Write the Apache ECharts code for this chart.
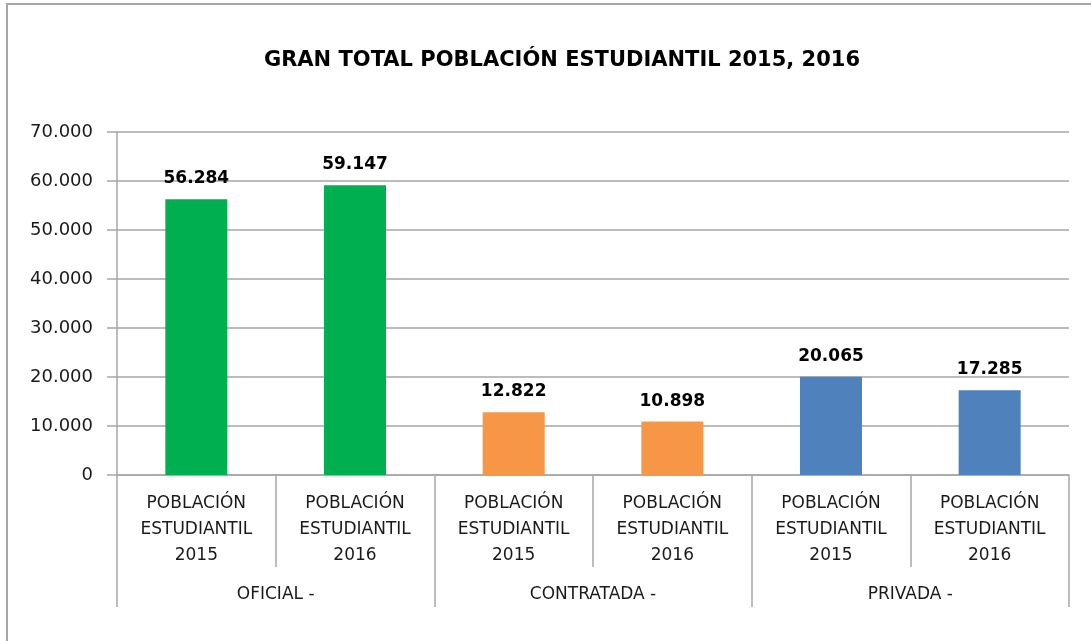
<!DOCTYPE html>
<html style="height: 100%">
<head>
   <meta charset="utf-8">
</head>
<style>
    body, html, #chart {
        width: 100%;
        height: 100%;
        margin: 0;
        background: #fff;
    }
</style>
<title>Gran total población estudiantil</title>
<script src="https://cdn.jsdelivr.net/npm/echarts@6/dist/echarts.min.js"></script>
<body>
   <div id="chart"></div>
   <script type="text/javascript">
    // datos
    var categories = ['POBLACIÓN\nESTUDIANTIL\n2015', 'POBLACIÓN\nESTUDIANTIL\n2016',
                      'POBLACIÓN\nESTUDIANTIL\n2015', 'POBLACIÓN\nESTUDIANTIL\n2016',
                      'POBLACIÓN\nESTUDIANTIL\n2015', 'POBLACIÓN\nESTUDIANTIL\n2016'];
    var groups = ['OFICIAL -', 'CONTRATADA -', 'PRIVADA -'];
    var values = [56284, 59147, 12822, 10898, 20065, 17285];
    var colors = ['#00B050', '#00B050', '#F79646', '#F79646', '#4F81BD', '#4F81BD'];

    var font = 'DejaVu Sans';
    function fmt(v) {
        return String(v).replace(/\B(?=(\d{3})+(?!\d))/g, '.');
    }

    var chart = echarts.init(document.getElementById('chart'));
    var option = {
        backgroundColor: '#fff',
        animation: false,
        title: {
            text: 'GRAN TOTAL POBLACIÓN ESTUDIANTIL 2015, 2016',
            left: 557,
            textAlign: 'center',
            top: 45,
            textStyle: { fontFamily: font, fontSize: 21, fontWeight: 'bold', color: '#000' }
        },
        graphic: [{
            type: 'rect',
            shape: { x: 7, y: 4, width: 1200, height: 800 },
            style: { fill: 'none', stroke: '#A6A6A6', lineWidth: 2 },
            silent: true
        }],
        grid: { left: 117, right: 22, top: 132, bottom: 166 },
        xAxis: [{
            type: 'category',
            data: categories,
            axisLine: { lineStyle: { color: '#A6A6A6', width: 1.5 } },
            axisTick: { show: true, length: 92, lineStyle: { color: '#A6A6A6', width: 1.5 } },
            axisLabel: {
                fontFamily: font, fontSize: 17, color: '#1a1a1a',
                lineHeight: 26, margin: 16, interval: 0
            }
        }, {
            type: 'category',
            position: 'bottom',
            data: groups,
            axisLine: { show: false },
            axisTick: { show: true, length: 132, lineStyle: { color: '#A6A6A6', width: 1.5 } },
            axisLabel: { fontFamily: font, fontSize: 17, color: '#1a1a1a', margin: 111 }
        }],
        yAxis: {
            type: 'value',
            min: 0, max: 70000, interval: 10000,
            axisLine: { show: true, lineStyle: { color: '#A6A6A6', width: 1.5 } },
            axisTick: { show: true, length: 10, lineStyle: { color: '#A6A6A6', width: 1.5 } },
            splitLine: { lineStyle: { color: '#A6A6A6', width: 1.5 } },
            axisLabel: {
                fontFamily: font, fontSize: 18, color: '#1a1a1a', margin: 24,
                formatter: fmt
            }
        },
        series: [{
            type: 'bar',
            xAxisIndex: 0,
            barWidth: 62,
            data: values.map(function (v, i) {
                return { value: v, itemStyle: { color: colors[i] } };
            }),
            label: {
                show: true, position: 'top', distance: 12,
                fontFamily: font, fontSize: 17, fontWeight: 'bold', color: '#000',
                formatter: function (p) { return fmt(p.value); }
            }
        }]
    };
    chart.setOption(option);
    </script>
</body>
</html>
